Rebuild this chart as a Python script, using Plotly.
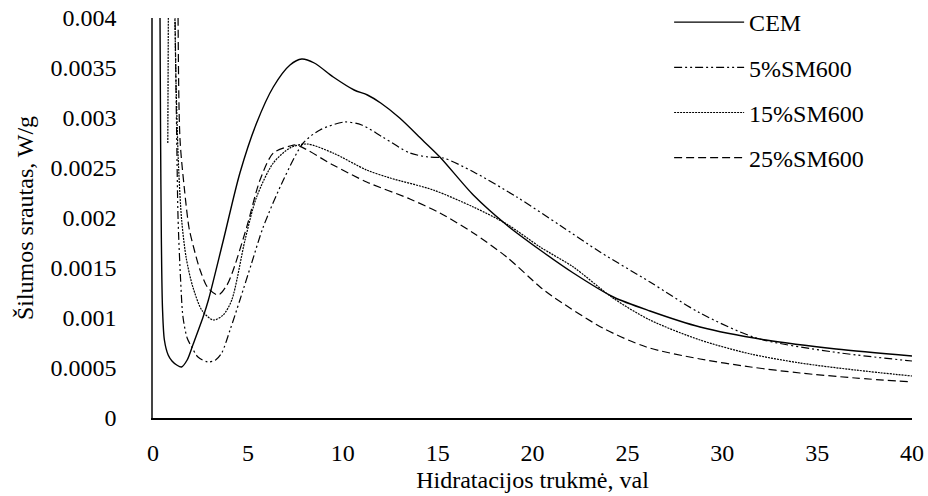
import plotly.graph_objects as go

# ---- data ----
cem_x = [0.28, 0.33, 0.37, 0.40, 0.44, 0.5, 0.6, 0.8, 1.0, 1.25, 1.5, 1.8, 2.1, 2.64, 2.92, 3.71, 4.58, 5.46, 6.34, 7.22, 7.84, 8.5, 9.5, 10.6, 11.3, 12.0, 13.0, 14.2, 15.12, 16.88, 18.64, 20.4, 22.15, 24.26, 26.19, 28.83, 32.3, 36.0, 40.0]
cem_y = [0.009, 0.0055, 0.0040, 0.0028, 0.0018, 0.0011, 0.00078, 0.00063, 0.00057, 0.00053, 0.00051, 0.00058, 0.00073, 0.00101, 0.00118, 0.00178, 0.00245, 0.00295, 0.00331, 0.00353, 0.00359, 0.00355, 0.00341, 0.00328, 0.00323, 0.00315, 0.0030, 0.00278, 0.00261, 0.00223, 0.00193, 0.00168, 0.00145, 0.00121, 0.00107, 0.00091, 0.00078, 0.00069, 0.00062]

sm5_x = [0.95, 1.05, 1.15, 1.25, 1.32, 1.45, 1.58, 1.8, 2.04, 2.37, 2.9, 3.3, 3.62, 4.06, 4.58, 5.2, 5.81, 6.87, 7.92, 8.8, 10.1, 11.0, 12.1, 13.54, 14.5, 15.3, 16.9, 19.17, 21.5, 23.56, 26.19, 28.83, 31.8, 35.85, 40.0]
sm5_y = [0.009, 0.006, 0.0042, 0.0028, 0.0020, 0.0014, 0.00101, 0.0008, 0.00071, 0.00061, 0.00056, 0.00058, 0.00065, 0.00088, 0.00118, 0.00155, 0.00191, 0.00238, 0.00275, 0.00288, 0.00296, 0.00293, 0.00281, 0.00265, 0.00261, 0.0026, 0.00246, 0.00221, 0.00192, 0.00166, 0.00136, 0.00105, 0.0008, 0.00066, 0.00057]

sm15_x = [0.78, 0.82, 0.88, 1.0, 1.12, 1.22, 1.35, 1.51, 1.75, 2.1, 2.6, 3.18, 3.7, 4.15, 4.85, 5.46, 6.34, 7.22, 8.1, 9.49, 11.26, 12.5, 14.77, 16.88, 18.64, 20.4, 22.15, 24.24, 26.19, 28.83, 31.5, 34.1, 37.0, 40.0]
sm15_y = [0.00275, 0.0045, 0.007, 0.007, 0.0045, 0.0033, 0.0025, 0.00198, 0.0016, 0.00131, 0.00107, 0.00098, 0.00103, 0.00118, 0.00178, 0.00221, 0.00255, 0.0027, 0.00274, 0.00265, 0.00248, 0.0024, 0.00228, 0.00211, 0.00194, 0.00171, 0.00151, 0.0012, 0.00098, 0.00078, 0.00064, 0.00055, 0.00048, 0.00042]

sm25_x = [1.2, 1.3, 1.42, 1.65, 1.9, 2.15, 2.48, 2.9, 3.44, 3.9, 4.23, 4.94, 5.64, 6.34, 7.22, 7.56, 9.49, 11.26, 13.54, 15.12, 16.88, 18.64, 20.4, 21.1, 23.7, 26.0, 28.83, 31.5, 34.1, 37.0, 40.0]
sm25_y = [0.007, 0.0045, 0.0028, 0.0023, 0.0019, 0.0017, 0.00148, 0.0013, 0.00123, 0.00133, 0.00148, 0.00191, 0.00238, 0.00265, 0.00272, 0.00273, 0.00253, 0.00236, 0.00219, 0.00205, 0.00185, 0.00161, 0.00131, 0.00121, 0.0009, 0.00071, 0.00059, 0.00051, 0.00045, 0.0004, 0.00036]

series_names = ["CEM", "5%SM600", "15%SM600", "25%SM600"]

x_ticks = [0, 5, 10, 15, 20, 25, 30, 35, 40]
y_ticks = [0, 0.0005, 0.001, 0.0015, 0.002, 0.0025, 0.003, 0.0035, 0.004]
y_tick_text = ["0", "0.0005", "0.001", "0.0015", "0.002", "0.0025", "0.003", "0.0035", "0.004"]

x_title = "Hidratacijos trukmė, val"
y_title = "Šilumos srautas, W/g"

# ---- styles ----
FONT = "Liberation Serif"
FS = 24
dashes = ["solid", "8px,3px,2px,3px,2px,3px", "2px,1px", "8px,4px"]
widths = [1.4, 1.2, 1.2, 1.2]

fig = go.Figure()
for i, (xs, ys) in enumerate([(cem_x, cem_y), (sm5_x, sm5_y), (sm15_x, sm15_y), (sm25_x, sm25_y)]):
    fig.add_trace(go.Scatter(
        x=xs, y=ys, mode="lines", name=series_names[i],
        legendgroup=series_names[i],
        line=dict(color="black", width=widths[i], dash=dashes[i], shape="spline", smoothing=0.8),
    ))

fig.update_layout(
    width=928, height=496,
    margin=dict(l=153, r=16, t=18, b=78, autoexpand=False),
    paper_bgcolor="white", plot_bgcolor="white",
    font=dict(family=FONT, size=FS, color="black"),
    showlegend=True,
    legend=dict(
        x=0.68, y=1.045, xanchor="left", yanchor="top",
        bgcolor="rgba(0,0,0,0)", traceorder="grouped", tracegroupgap=11,
        itemwidth=70, font=dict(family=FONT, size=FS, color="black"),
    ),
    xaxis=dict(
        range=[0, 40], tickvals=x_ticks, ticktext=[str(v) for v in x_ticks],
        showgrid=False, zeroline=False, showline=True, linecolor="black", linewidth=2,
        ticks="", ticklabelstandoff=12, tickfont=dict(family=FONT, size=FS),
        title=dict(text=x_title, standoff=6, font=dict(family=FONT, size=FS)),
    ),
    yaxis=dict(
        range=[0, 0.004], tickvals=y_ticks, ticktext=y_tick_text,
        showgrid=False, zeroline=False, showline=True, linecolor="#444", linewidth=1.5,
        ticks="", ticklabelstandoff=30, tickfont=dict(family=FONT, size=FS),
        title=dict(text=y_title, standoff=10, font=dict(family=FONT, size=FS)),
    ),
)

fig.write_html("out.html")
